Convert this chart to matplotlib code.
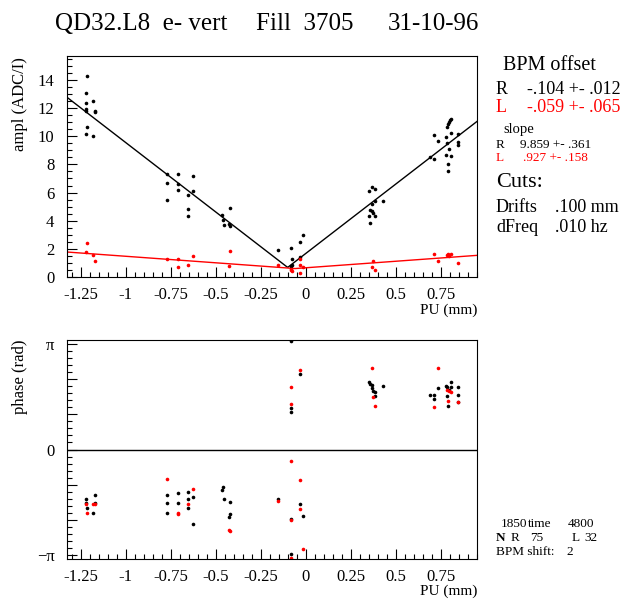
import numpy as np
import matplotlib
matplotlib.use("Agg")
import matplotlib.pyplot as plt
from matplotlib.ticker import MultipleLocator, FixedLocator, FuncFormatter

plt.rcParams['font.family'] = ['Liberation Serif', 'DejaVu Serif']
plt.rcParams['axes.unicode_minus'] = False

# amplitude, R (black) and L (red) pickups
r_amp_x = [-1.213, -1.220, -1.220, -1.220, -1.220, -1.181, -1.170, -1.170, -1.213, -1.220, -1.181,
           -0.772, -0.772, -0.772, -0.707, -0.707, -0.707, -0.652, -0.652, -0.652, -0.624, -0.624,
           -0.465, -0.457, -0.454, -0.428, -0.420, -0.420,
           -0.152, -0.081, -0.074, -0.074, -0.081, -0.030, -0.015, -0.030,
           0.352, 0.368, 0.383, 0.368, 0.357, 0.368, 0.376, 0.383, 0.352, 0.387, 0.357, 0.430,
           0.711, 0.737, 0.693, 0.711, 0.778, 0.785, 0.789, 0.796, 0.804, 0.807, 0.785, 0.807,
           0.778, 0.807, 0.796, 0.789, 0.789, 0.844, 0.844, 0.844]
r_amp_y = [14.26, 13.10, 12.36, 11.93, 11.80, 12.52, 11.80, 11.70, 10.69, 10.17, 10.00,
           7.31, 6.69, 5.45, 7.31, 6.64, 6.21, 5.83, 4.83, 4.31, 7.14, 6.12,
           4.40, 4.07, 3.69, 3.79, 3.64, 4.88,
           1.93, 2.07, 1.26, 0.88, 0.79, 2.50, 2.98, 1.43,
           6.12, 6.40, 6.26, 5.17, 4.74, 4.69, 4.55, 5.40, 4.31, 4.31, 3.83, 5.40,
           10.07, 9.64, 8.55, 8.36, 9.98, 10.69, 10.88, 11.02, 11.17, 11.21, 9.50, 10.26,
           8.69, 8.60, 9.12, 8.02, 7.50, 10.17, 9.60, 9.36]
l_amp_x = [-1.213, -1.220, -1.181, -1.170, -0.772, -0.707, -0.707, -0.652, -0.624, -0.420,
           -0.428, -0.152, -0.081, -0.081, -0.074, -0.030, -0.030, -0.030, -0.015,
           0.376, 0.368, 0.387, 0.711, 0.737, 0.789, 0.796, 0.807, 0.785, 0.844]
l_amp_y = [2.40, 1.79, 1.55, 1.17, 1.26, 1.26, 0.74, 0.88, 1.50, 1.83,
           0.79, 0.83, 0.60, 0.50, 0.45, 1.26, 0.88, 0.26, 0.74,
           1.12, 0.69, 0.50, 1.60, 1.17, 1.64, 1.50, 1.60, 1.55, 1.02]

# V fits: offset, slope, value at the vertex
r_fit = (-0.100, 9.859, 0.68)
l_fit = (-0.059, 0.927, 0.60)

# phase, in units of pi
r_ph_x = [-0.081, -0.030, -0.081, -0.081, 0.352, 0.357, 0.368, 0.368, 0.376, 0.383, 0.387, 0.430,
          0.693, 0.711, 0.711, 0.737, 0.778, 0.785, 0.785, 0.789, 0.796, 0.807, 0.807, 0.844, 0.844, 0.844,
          -1.220, -1.220, -1.213, -1.181, -1.170, -1.170,
          -0.772, -0.772, -0.772, -0.707, -0.707, -0.652, -0.652, -0.652, -0.624, -0.624,
          -0.465, -0.457, -0.454, -0.420, -0.428, -0.420,
          -0.152, -0.081, -0.081, -0.030, -0.015]
r_ph_y = [1.033, 0.720, 0.396, 0.358, 0.637, 0.618, 0.612, 0.586, 0.555, 0.548, 0.504, 0.599,
          0.517, 0.517, 0.479, 0.580, 0.605, 0.593, 0.504, 0.415, 0.567, 0.637, 0.593, 0.593, 0.517, 0.453,
          -0.466, -0.504, -0.555, -0.605, -0.434, -0.510,
          -0.434, -0.510, -0.599, -0.409, -0.510, -0.403, -0.466, -0.555, -0.453, -0.707,
          -0.384, -0.358, -0.472, -0.498, -0.637, -0.617,
          -0.466, -0.662, -0.992, -0.517, -0.631]
l_ph_x = [-0.081, -0.081, -0.030, 0.368, 0.376, 0.387, 0.737, 0.711, 0.789, 0.796, 0.807, 0.844, 0.785,
          -1.220, -1.213, -1.181, -1.170, -0.772, -0.707, -0.707, -0.652, -0.624, -0.428, -0.420,
          -0.152, -0.081, -0.081, -0.081, -0.030, -0.030, -0.015]
l_ph_y = [0.593, 0.428, 0.758, 0.770, 0.498, 0.415, 0.770, 0.403, 0.460, 0.555, 0.548, 0.453, 0.567,
          -0.517, -0.605, -0.517, -0.517, -0.282, -0.599, -0.612, -0.517, -0.377, -0.764, -0.777,
          -0.491, -0.105, -0.669, -1.030, -0.288, -0.561, -0.941]

W, H = 630, 600
fig = plt.figure(figsize=(6.3, 6.0), dpi=100)


def px(x, y):
    return x / W, 1 - y / H


ax1 = fig.add_axes([67 / W, 1 - 277 / H, 410 / W, 221 / H])
ax2 = fig.add_axes([67 / W, 1 - 559 / H, 410 / W, 219 / H])

xlim = (-1.326, 0.952)
fmt = FuncFormatter(lambda v, p: '%g' % round(v, 2))

for ax in (ax1, ax2):
    ax.set_xlim(*xlim)
    ax.xaxis.set_major_locator(MultipleLocator(0.25))
    ax.xaxis.set_minor_locator(MultipleLocator(0.05))
    ax.xaxis.set_major_formatter(fmt)
    ax.tick_params(which='both', direction='in', top=False, right=False, labelsize=12)
    ax.tick_params(which='major', length=7, width=0.8)
    ax.tick_params(which='minor', length=3.5, width=0.8)
    ax.tick_params(axis='x', pad=7)
    ax.tick_params(axis='y', pad=9)
    for s in ax.spines.values():
        s.set_linewidth(0.8)

# top: amplitude
ax1.set_ylim(0, 15.7)
ax1.yaxis.set_major_locator(MultipleLocator(2))
ax1.yaxis.set_minor_locator(MultipleLocator(0.5))
xx = np.linspace(xlim[0], xlim[1], 400)
for (x0, k, c), col in ((r_fit, 'black'), (l_fit, 'red')):
    ax1.plot(xx, k * np.abs(xx - x0) + c, color=col, lw=1.0)
ax1.plot(r_amp_x, r_amp_y, 'o', color='black', ms=2.6, mew=0)
ax1.plot(l_amp_x, l_amp_y, 'o', color='red', ms=2.6, mew=0)

# bottom: phase
ax2.set_ylim(-1.04 * np.pi, 1.04 * np.pi)
ax2.yaxis.set_major_locator(FixedLocator(np.arange(-3, 4) * np.pi / 3))
ax2.yaxis.set_minor_locator(MultipleLocator(np.pi / 15))
ax2.yaxis.set_major_formatter(FuncFormatter(
    lambda v, p: {-3: '\u2212\u03c0', 0: '0', 3: '\u03c0'}.get(int(round(v / np.pi * 3)), '')))
ax2.axhline(0, color='black', lw=1.0)
ax2.plot(r_ph_x, np.array(r_ph_y) * np.pi, 'o', color='black', ms=2.6, mew=0)
ax2.plot(l_ph_x, np.array(l_ph_y) * np.pi, 'o', color='red', ms=2.6, mew=0)

# axis titles
fig.text(*px(20, 57), 'ampl (ADC/I)', rotation=90, ha='center', va='top', fontsize=12)
fig.text(*px(20, 340), 'phase (rad)', rotation=90, ha='center', va='top', fontsize=12)
fig.text(*px(477, 310), 'PU (mm)', ha='right', va='center', fontsize=11)
fig.text(*px(477, 591), 'PU (mm)', ha='right', va='center', fontsize=11)

# title
fig.text(*px(55, 24), 'QD32.L8  e- vert', ha='left', va='center', fontsize=18)
fig.text(*px(256, 24), 'Fill  3705', ha='left', va='center', fontsize=18)
fig.text(*px(388, 24), '31-10-96', ha='left', va='center', fontsize=18)

# right side notes
fig.text(*px(503, 66), 'BPM offset', ha='left', va='center', fontsize=14.5)
fig.text(*px(496, 89), 'R', ha='left', va='center', fontsize=13)
fig.text(*px(527, 89), '-.104 +- .012', ha='left', va='center', fontsize=13)
fig.text(*px(496, 107), 'L', ha='left', va='center', fontsize=13, color='red')
fig.text(*px(527, 107), '-.059 +- .065', ha='left', va='center', fontsize=13, color='red')
fig.text(*px(503, 129), 'slope', ha='left', va='center', fontsize=10.5)
fig.text(*px(496, 145), 'R', ha='left', va='center', fontsize=9.5)
fig.text(*px(520, 145), '9.859 +- .361', ha='left', va='center', fontsize=9.5)
fig.text(*px(496, 158), 'L', ha='left', va='center', fontsize=9.5, color='red')
fig.text(*px(523, 158), '.927 +- .158', ha='left', va='center', fontsize=9.5, color='red')
fig.text(*px(496, 183), 'Cuts:', ha='left', va='center', fontsize=16)
fig.text(*px(496, 208), 'Drifts', ha='left', va='center', fontsize=13)
fig.text(*px(555, 208), '.100 mm', ha='left', va='center', fontsize=13)
fig.text(*px(496, 228), 'dFreq', ha='left', va='center', fontsize=13)
fig.text(*px(555, 228), '.010 hz', ha='left', va='center', fontsize=13)

fig.text(*px(501, 524), '1850', ha='left', va='center', fontsize=9.5)
fig.text(*px(528, 524), 'time', ha='left', va='center', fontsize=9.5)
fig.text(*px(568, 524), '4800', ha='left', va='center', fontsize=9.5)
fig.text(*px(496, 538), 'N', ha='left', va='center', fontsize=9.5, fontweight='bold')
fig.text(*px(511, 538), 'R', ha='left', va='center', fontsize=9.5)
fig.text(*px(530, 538), '75', ha='left', va='center', fontsize=9.5)
fig.text(*px(572, 538), 'L', ha='left', va='center', fontsize=9.5)
fig.text(*px(584, 538), '32', ha='left', va='center', fontsize=9.5)
fig.text(*px(496, 552), 'BPM shift:', ha='left', va='center', fontsize=9.5)
fig.text(*px(566, 552), '2', ha='left', va='center', fontsize=9.5)

fig.savefig('out.png', dpi=100)
